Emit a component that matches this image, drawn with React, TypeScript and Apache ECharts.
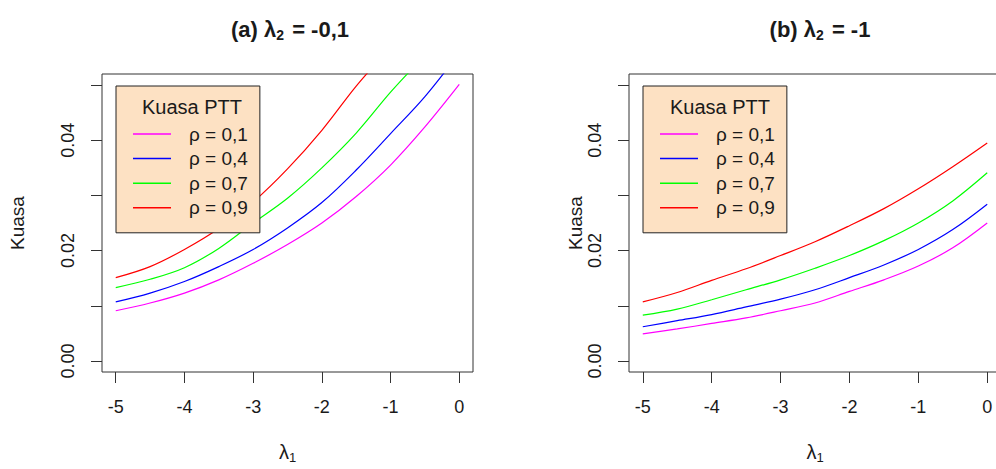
import React, { useEffect, useRef } from "react";
import * as echarts from "echarts";

// ---- data ----
const lambda1 = [-5, -4.5, -4, -3.5, -3, -2.5, -2, -1.5, -1, -0.5, 0];
const xTicks = [-5, -4, -3, -2, -1, 0];
const yTicks = [0, 0.01, 0.02, 0.03, 0.04, 0.05];
const yTickLabels = [0, 0.02, 0.04];
const seriesNames = ["ρ = 0,1", "ρ = 0,4", "ρ = 0,7", "ρ = 0,9"];
const seriesColors = ["#FF00FF", "#0000FF", "#00FF00", "#FF0000"];

// panel (a): lambda2 = -0,1
const a_rho01 = [0.0091, 0.0105, 0.0123, 0.0147, 0.0177, 0.0211, 0.025, 0.0298, 0.0355, 0.0424, 0.0501];
const a_rho04 = [0.0107, 0.0123, 0.0144, 0.0171, 0.0202, 0.0241, 0.0287, 0.0346, 0.0412, 0.0479, 0.0558];
const a_rho07 = [0.0133, 0.0148, 0.0169, 0.0204, 0.025, 0.0295, 0.035, 0.0413, 0.0487, 0.0555, 0.063];
const a_rho09 = [0.0151, 0.0171, 0.0202, 0.024, 0.0288, 0.0348, 0.0418, 0.0498, 0.057, 0.065, 0.074];

// panel (b): lambda2 = -1
const b_rho01 = [0.0049, 0.0058, 0.0068, 0.0078, 0.0091, 0.0105, 0.0126, 0.0147, 0.0172, 0.0205, 0.025];
const b_rho04 = [0.0062, 0.0073, 0.0084, 0.0098, 0.0112, 0.0129, 0.0151, 0.0174, 0.0202, 0.0238, 0.0284];
const b_rho07 = [0.0083, 0.0094, 0.0111, 0.0129, 0.0147, 0.0168, 0.0191, 0.0218, 0.025, 0.029, 0.0341];
const b_rho09 = [0.0107, 0.0124, 0.0146, 0.0167, 0.0191, 0.0216, 0.0245, 0.0276, 0.0312, 0.0352, 0.0395];

const panelA = [a_rho01, a_rho04, a_rho07, a_rho09];
const panelB = [b_rho01, b_rho04, b_rho07, b_rho09];

const FONT = "'Liberation Sans', Arial, sans-serif";
const TXT = "#1a1a1a";
const FRAME = "#333333";

export default function App() {
  const ref = useRef<HTMLDivElement>(null);

  useEffect(() => {
    if (!ref.current) return;
    const chart = echarts.init(ref.current, null, { renderer: "svg" });

    const grids = [
      { left: 102, top: 74, width: 371, height: 298 },
      { left: 629, top: 74, width: 372, height: 298 },
    ];

    const xAxis = grids.map((_, i) => ({
      type: "value",
      gridIndex: i,
      position: "bottom",
      min: -5.2,
      max: 0.2,
      splitLine: { show: false },
      axisLine: { show: false, onZero: false },
      axisTick: {
        show: true,
        inside: false,
        length: 11,
        customValues: xTicks,
        lineStyle: { color: FRAME, width: 1 },
      },
      axisLabel: {
        customValues: xTicks,
        margin: 26,
        fontSize: 18,
        fontFamily: FONT,
        color: TXT,
        formatter: (v: number) => String(v),
      },
      name: "{l|λ}{s|1}",
      nameLocation: "middle",
      nameGap: 70,
      nameTextStyle: {
        rich: {
          l: { fontSize: 20, fontFamily: FONT, color: TXT, lineHeight: 20 },
          s: { fontSize: 13, fontFamily: FONT, color: TXT, lineHeight: 13, padding: [10, 0, 0, 0] },
        },
      },
    }));

    const yAxis = grids.map((_, i) => ({
      type: "value",
      gridIndex: i,
      position: "left",
      min: -0.002,
      max: 0.052,
      splitLine: { show: false },
      axisLine: { show: false, onZero: false },
      axisTick: {
        show: true,
        inside: false,
        length: 11,
        customValues: yTicks,
        lineStyle: { color: FRAME, width: 1 },
      },
      axisLabel: {
        customValues: yTickLabels,
        rotate: 90,
        margin: 25,
        fontSize: 18,
        fontFamily: FONT,
        color: TXT,
        formatter: (v: number) => v.toFixed(2),
      },
      name: "Kuasa",
      nameLocation: "middle",
      nameRotate: 90,
      nameGap: i === 0 ? 75 : 37,
      nameTextStyle: { fontSize: 19, fontFamily: FONT, color: TXT },
    }));

    const series: any[] = [];
    [panelA, panelB].forEach((panel, gi) => {
      panel.forEach((vals, k) => {
        series.push({
          type: "line",
          name: seriesNames[k],
          xAxisIndex: gi,
          yAxisIndex: gi,
          data: lambda1.map((x, j) => [x, vals[j]]),
          showSymbol: false,
          symbol: "none",
          smooth: 0.35,
          clip: true,
          color: seriesColors[k],
          lineStyle: { color: seriesColors[k], width: 1.2 },
          emphasis: { disabled: true },
        });
      });
    });

    const legendBase = {
      orient: "vertical",
      data: seriesNames,
      backgroundColor: "#FDE1C3",
      borderColor: "#222222",
      borderWidth: 1,
      borderRadius: 0,
      padding: [38, 12, 15, 17],
      icon: "rect",
      itemWidth: 38,
      itemHeight: 1.5,
      itemGap: 4.6,
      selectedMode: false,
      textStyle: { fontSize: 19, lineHeight: 20, fontFamily: FONT, color: TXT, padding: [0, 0, 0, 13] },
    };

    const mainTitleStyle = {
      fontSize: 22,
      fontWeight: "bold",
      fontFamily: FONT,
      color: TXT,
      lineHeight: 24,
      rich: {
        l: { fontSize: 22, fontFamily: FONT, color: TXT, lineHeight: 24 },
        s: { fontSize: 14, fontFamily: FONT, fontWeight: "bold", color: TXT, lineHeight: 14, padding: [11, 2, 0, 0] },
      },
    };

    chart.setOption({
      animation: false,
      backgroundColor: "#ffffff",
      title: [
        { text: "(a) {l|λ}{s|2} = -0,1", left: 285, top: 12, textAlign: "center", textStyle: mainTitleStyle },
        { text: "(b) {l|λ}{s|2} = -1", left: 815, top: 12, textAlign: "center", textStyle: mainTitleStyle },
        {
          text: "Kuasa PTT",
          left: 187,
          top: 92,
          textAlign: "center",
          textStyle: { fontSize: 20, fontWeight: "normal", fontFamily: FONT, color: TXT },
        },
        {
          text: "Kuasa PTT",
          left: 715,
          top: 92,
          textAlign: "center",
          textStyle: { fontSize: 20, fontWeight: "normal", fontFamily: FONT, color: TXT },
        },
      ],
      legend: [
        { ...legendBase, left: 116, top: 86 },
        { ...legendBase, left: 643, top: 86 },
      ],
      grid: grids.map((g) => ({
        ...g,
        show: true,
        borderColor: FRAME,
        borderWidth: 1,
        backgroundColor: "transparent",
        containLabel: false,
        outerBoundsMode: "none",
      })),
      xAxis,
      yAxis,
      series,
    });

    return () => chart.dispose();
  }, []);

  return (
    <div
      ref={ref}
      style={{ position: "fixed", left: 0, top: 0, width: 996, height: 469, background: "#fff" }}
    />
  );
}
